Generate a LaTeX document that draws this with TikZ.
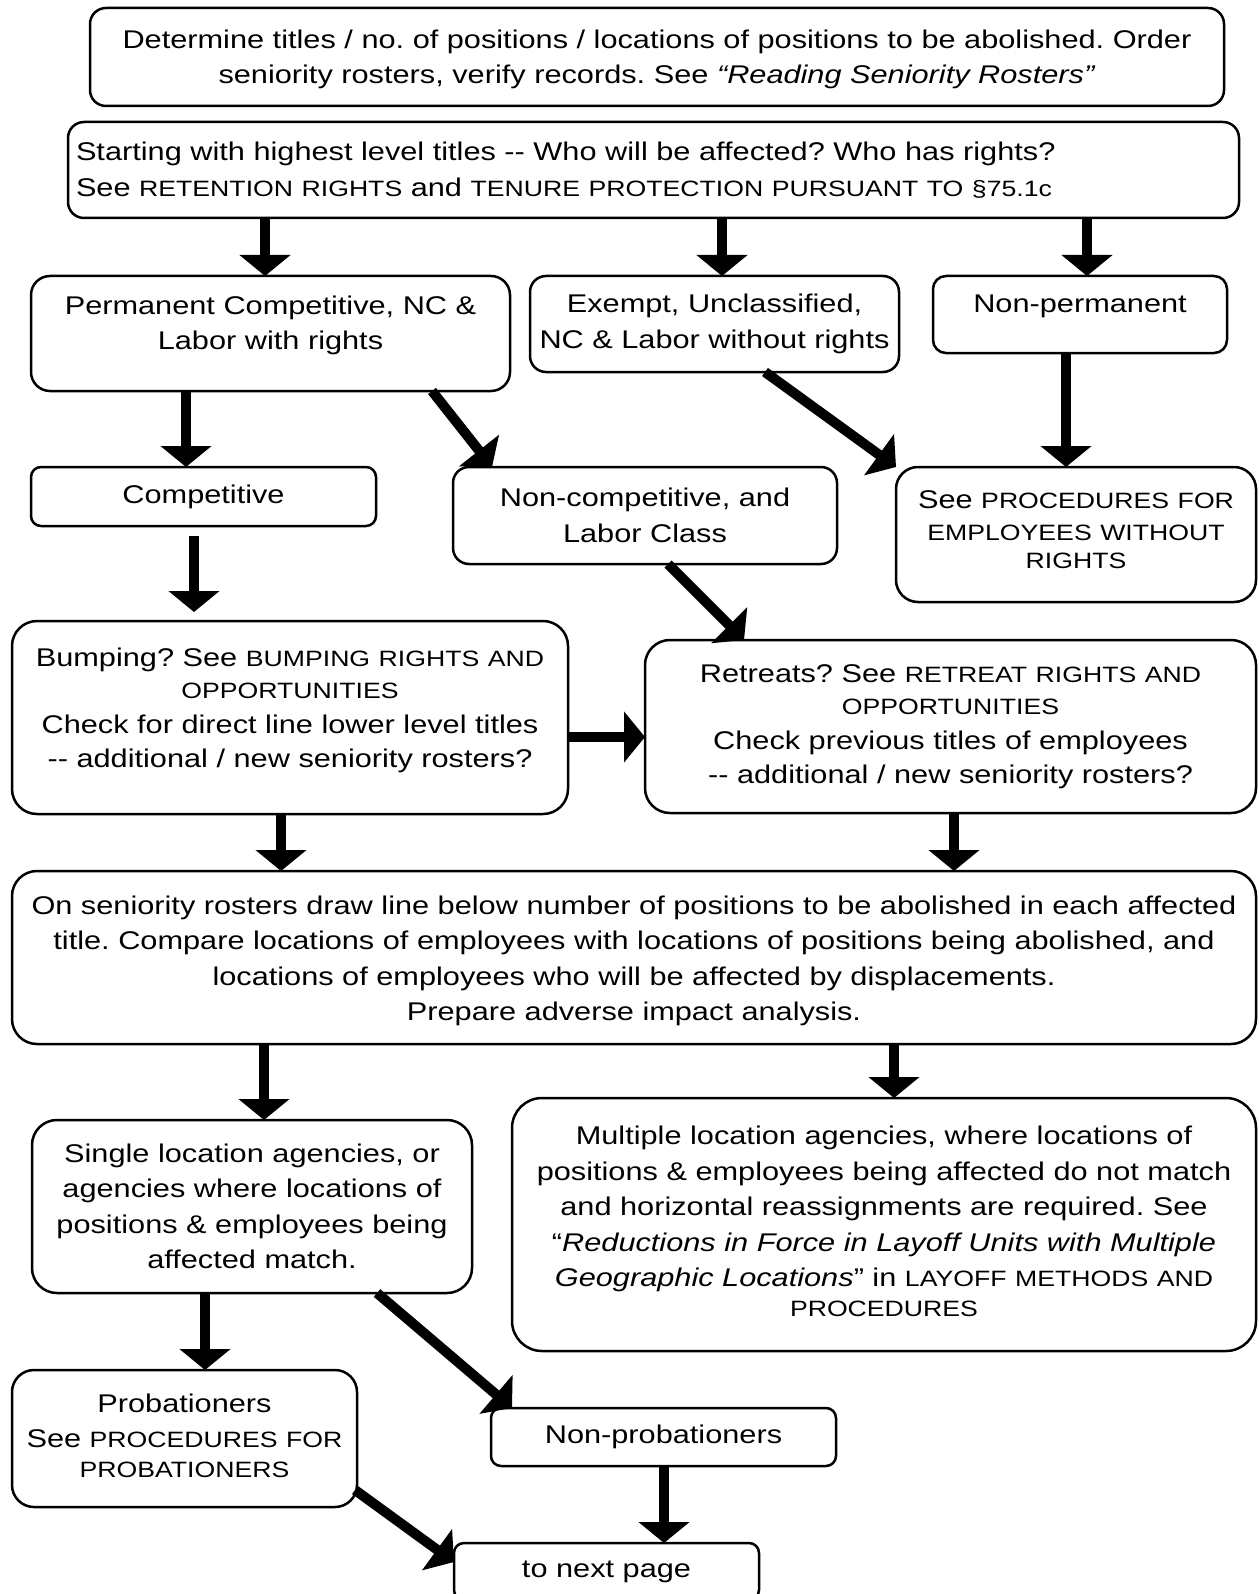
\documentclass[tikz,border=0pt]{standalone}
\usepackage{fontspec}
\setmainfont{Liberation Sans}[FakeStretch=1.2]
\usetikzlibrary{arrows.meta,calc}
\frenchspacing
\newcommand\smc[1]{{\fontsize{22.2pt}{35.5pt}\selectfont #1}}
\newcommand\bodyfont{\fontsize{25.6pt}{35.5pt}\selectfont\frenchspacing}
% invisible struts that move a box's text up (depth) or down (height)
\newcommand\dn[1]{\rule[-#1]{0pt}{0pt}}
\newcommand\hi[1]{\rule{0pt}{#1}}
\begin{document}
\begin{tikzpicture}[x=1pt,y=-1pt,
  box/.style={draw, line width=2.5pt, inner sep=0pt, outer sep=0pt, align=center, font=\bodyfont},
  arr/.style={line width=10pt, -{Triangle[length=21pt,width=50pt]}}]
\useasboundingbox (0,0) rectangle (1258,1594);

\node[box, rounded corners=16pt, minimum width=1134pt, minimum height=98pt, text width=1130pt] (top) at (657,57)
 {\hi{23pt}Determine titles / no. of positions / locations of positions to be abolished. Order\\ seniority rosters, verify records. See \textit{“Reading Seniority Rosters”}};
\node[box, rounded corners=16pt, minimum width=1171pt, minimum height=96pt, text width=1155pt, align=left] (start) at (653.5,170)
 {Starting with highest level titles -{}- Who will be affected? Who has rights?\\ See \smc{RETENTION RIGHTS} and \smc{TENURE PROTECTION PURSUANT TO §75.1c}};

\node[box, rounded corners=19pt, minimum width=479pt, minimum height=115pt, text width=475pt] (perm) at (270.5,333.5)
 {Permanent Competitive, NC \&\\ Labor with rights\dn{21.5pt}};
\node[box, rounded corners=16pt, minimum width=369pt, minimum height=96pt, text width=365pt] (exempt) at (714.5,324)
 {Exempt, Unclassified,\\ NC \& Labor without rights};
\node[box, rounded corners=13pt, minimum width=294pt, minimum height=77pt, text width=290pt] (nonperm) at (1080,314.5)
 {Non-permanent\dn{21.5pt}};

\node[box, rounded corners=10pt, minimum width=345pt, minimum height=59pt, text width=341pt] (comp) at (203.5,496.5)
 {Competitive};
\node[box, rounded corners=16pt, minimum width=384pt, minimum height=97pt, text width=380pt] (noncomp) at (645,515.5)
 {Non-competitive, and\\ Labor Class};
\node[box, rounded corners=22pt, minimum width=360pt, minimum height=135pt, text width=356pt] (seeproc) at (1076,534.5)
 {See \smc{PROCEDURES FOR}\\[-4pt] \smc{EMPLOYEES WITHOUT}\\[-7pt] \smc{RIGHTS}\dn{9pt}};

\node[box, rounded corners=25pt, minimum width=556pt, minimum height=193pt, text width=552pt] (bump) at (290,717.5)
 {Bumping? See \smc{BUMPING RIGHTS AND}\\[-4pt] \smc{OPPORTUNITIES}\\ Check for direct line lower level titles\\[-2pt] -{}- additional / new seniority rosters?\dn{19.5pt}};
\node[box, rounded corners=25pt, minimum width=611pt, minimum height=173pt, text width=607pt] (retreat) at (950.5,726.5)
 {Retreats? See \smc{RETREAT RIGHTS AND}\\[-4pt] \smc{OPPORTUNITIES}\\ Check previous titles of employees\\[-2pt] -{}- additional / new seniority rosters?};

\node[box, rounded corners=25pt, minimum width=1244pt, minimum height=173pt, text width=1240pt] (roster) at (634,957.5)
 {\hi{25pt}On seniority rosters draw line below number of positions to be abolished in each affected\\ title. Compare locations of employees with locations of positions being abolished, and\\ locations of employees who will be affected by displacements.\\ Prepare adverse impact analysis.};

\node[box, rounded corners=25pt, minimum width=440pt, minimum height=173pt, text width=436pt] (single) at (252,1206.5)
 {Single location agencies, or\\ agencies where locations of\\ positions \& employees being\\ affected match.};
\node[box, rounded corners=30pt, minimum width=744pt, minimum height=253pt, text width=740pt] (multi) at (884,1224.5)
 {Multiple location agencies, where locations of\\ positions \& employees being affected do not match\\ and horizontal reassignments are required. See\\ “\textit{Reductions in Force in Layoff Units with Multiple}\\ \textit{Geographic Locations}” in \smc{LAYOFF METHODS AND}\\[-5.5pt] \smc{PROCEDURES}\dn{6pt}};

\node[box, rounded corners=22pt, minimum width=345pt, minimum height=137pt, text width=341pt] (prob) at (184.5,1438.5)
 {Probationers\\ See \smc{PROCEDURES FOR}\\[-5.5pt] \smc{PROBATIONERS}\dn{6pt}};
\node[box, rounded corners=10pt, minimum width=345pt, minimum height=58pt, text width=341pt] (nonprob) at (663.5,1437)
 {Non-probationers};
\node[box, rounded corners=10pt, minimum width=305pt, minimum height=57pt, text width=301pt] (next) at (606.5,1571.5)
 {to next page};

\draw[arr] ($(start.south)+(-388.5,0)$) -- ($(perm.north)+(-5.5,0)$);
\draw[arr] ($(start.south)+(68.5,0)$) -- ($(exempt.north)+(7.5,0)$);
\draw[arr] ($(start.south)+(433.5,0)$) -- ($(nonperm.north)+(7,0)$);
\draw[arr] ($(perm.south)+(-84.5,0)$) -- ($(comp.north)+(-17.5,0)$);
\draw[arr] ($(perm.south)+(161.5,0)$) -- ($(noncomp.north)+(-153,0)$);
\draw[arr] ($(exempt.south)+(50.5,0)$) -- (seeproc.north west);
\draw[arr] ($(nonperm.south)+(-14,0)$) -- ($(seeproc.north)+(-10,0)$);
\draw[arr, shorten <=10pt, shorten >=9pt] ($(comp.south)+(-9.5,0)$) -- ($(bump.north)+(-96,0)$);
\draw[arr] ($(noncomp.south)+(23,0)$) -- ($(retreat.north)+(-206.5,0)$);
\draw[arr] ($(bump.east)+(0,19.5)$) -- ($(retreat.west)+(0,10.5)$);
\draw[arr] ($(bump.south)+(-9,0)$) -- ($(roster.north)+(-353,0)$);
\draw[arr] ($(retreat.south)+(3.5,0)$) -- ($(roster.north)+(320,0)$);
\draw[arr] ($(roster.south)+(-370,0)$) -- ($(single.north)+(12,0)$);
\draw[arr] ($(roster.south)+(260,0)$) -- ($(multi.north)+(10,0)$);
\draw[arr] ($(single.south)+(-47,0)$) -- ($(prob.north)+(20.5,0)$);
\draw[arr] ($(single.south)+(125,0)$) -- ($(nonprob.north)+(-151.5,0)$);
\draw[arr] ($(prob.east)+(-2,51.5)$) -- ($(next.west)+(0,-9.5)$);
\draw[arr] ($(nonprob.south)+(0.5,0)$) -- ($(next.north)+(57.5,0)$);
\end{tikzpicture}
\end{document}
